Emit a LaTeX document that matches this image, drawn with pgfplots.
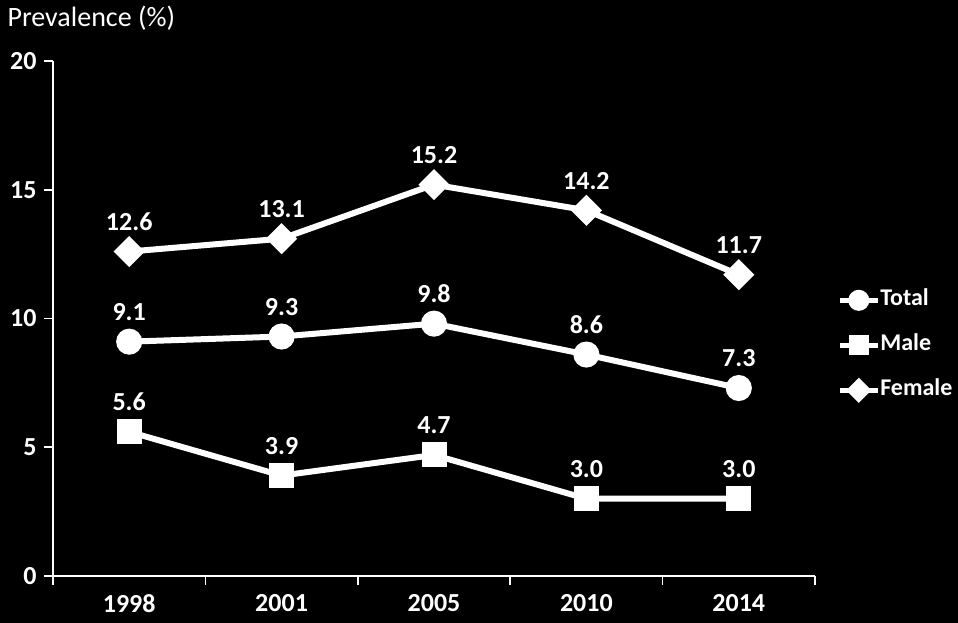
\documentclass[border=0pt]{standalone}
\usepackage{pgfplots}
\pgfplotsset{compat=1.18}
\usepackage{fontspec}
\setmainfont{Carlito}
\newcommand\bigf{\fontsize{26}{31}\selectfont}

\begin{document}
\begin{tikzpicture}
% black page behind the axis (axis box sits at the origin)
\fill[black] (-53pt,-47pt) rectangle (905pt,576pt);
\useasboundingbox (-53pt,-47pt) rectangle (905pt,576pt);

\begin{axis}[
    scale only axis,
    width=762pt, height=515pt,
    at={(0,0)}, anchor=south west,
    xmin=-0.5, xmax=4.5,
    ymin=0, ymax=20,
    axis lines=left,
    axis line style={-, white, line width=1.6pt},
    xtick={-0.5,0.5,...,4.5},
    x tick label as interval,
    xticklabels={1998,2001,2005,2010,2014},
    ytick={0,5,...,20},
    tick align=outside,
    major tick length=9pt,
    tick style={white, line width=1.6pt},
    tick label style={white, font=\bigf\bfseries},
    /pgf/number format/assume math mode=true,
    xticklabel style={yshift=-6pt},
    yticklabel style={xshift=-4pt},
    clip=false,
    every axis plot/.append style={white, line width=6pt, mark options={solid, fill=white}},
    nodes near coords,
    every node near coord/.append style={font=\bigf\bfseries, white, anchor=south, inner sep=0pt, yshift=18pt,
        /pgf/number format/fixed, /pgf/number format/fixed zerofill,
        /pgf/number format/precision=1, /pgf/number format/assume math mode=true},
    legend style={at={(1.029,0.558)}, anchor=north west, draw=none, fill=none,
        text=white, font=\fontsize{24}{29}\selectfont\bfseries, inner sep=0pt, row sep=22pt,
        nodes={inner sep=0pt, text height=17pt, text depth=6pt}},
    legend cell align=left,
    legend image code/.code={\draw[line width=5pt, mark repeat=2, mark phase=2, every mark/.append style={scale=0.8}]
        plot coordinates {(0pt,0pt)(19pt,0pt)(38pt,0pt)};},
]
% Total
\addplot[mark=*, mark size=10pt] coordinates {(0,9.1) (1,9.3) (2,9.8) (3,8.6) (4,7.3)};
\addlegendentry{Total}
% Male
\addplot[mark=square*, mark size=9.5pt] coordinates {(0,5.6) (1,3.9) (2,4.7) (3,3.0) (4,3.0)};
\addlegendentry{Male}
% Female
\addplot[mark=square*, mark size=8pt, mark options={rotate=45}] coordinates {(0,12.6) (1,13.1) (2,15.2) (3,14.2) (4,11.7)};
\addlegendentry{Female}
\end{axis}

\node[white, anchor=base west, font=\fontsize{28}{33}\selectfont] at (-49pt,549pt) {Prevalence (\%)};
\end{tikzpicture}
\end{document}
